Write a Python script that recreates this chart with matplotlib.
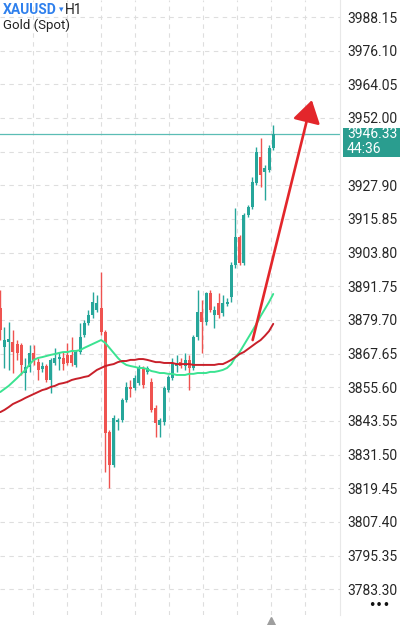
import numpy as np
import matplotlib
matplotlib.use("Agg")
import matplotlib.pyplot as plt
from matplotlib.patches import Rectangle, FancyArrowPatch
from matplotlib.transforms import blended_transform_factory

plt.rcParams['font.family'] = ['Roboto', 'DejaVu Sans']

# ---------------- data ----------------
symbol = "XAUUSD"
timeframe = "H1"
instrument = "Gold (Spot)"
countdown = "44:36"

opens = [3884.0, 3870.0, 3871.8, 3871.8, 3871.1, 3870.7, 3860.7, 3862.9, 3867.9, 3864.6,
         3862.1, 3863.2, 3858.2, 3864.3, 3865.7, 3866.1, 3867.2, 3867.2, 3863.6, 3868.2,
         3874.3, 3878.6, 3881.5, 3883.3, 3884.0, 3875.4, 3839.6, 3827.8, 3843.2, 3843.9,
         3851.0, 3855.7, 3855.3, 3857.1, 3862.5, 3861.1, 3857.5, 3848.2, 3842.1, 3843.2,
         3854.6, 3858.9, 3863.2, 3864.6, 3863.2, 3865.4, 3862.5, 3873.6, 3882.5, 3879.0,
         3889.4, 3881.5, 3885.8, 3882.2, 3885.4, 3887.9, 3899.4, 3909.4, 3900.1, 3917.3,
         3920.1, 3928.7, 3938.0, 3932.7, 3933.4, 3941.3]
highs = [3890.4, 3877.2, 3879.0, 3876.1, 3872.5, 3871.5, 3866.1, 3870.7, 3870.7, 3866.1,
         3864.6, 3863.9, 3866.1, 3869.7, 3868.2, 3868.2, 3871.5, 3873.6, 3868.9, 3878.6,
         3879.7, 3883.3, 3889.7, 3888.6, 3896.9, 3876.1, 3840.3, 3845.7, 3844.6, 3851.8,
         3857.5, 3858.2, 3860.0, 3863.6, 3863.2, 3863.2, 3858.9, 3849.3, 3844.6, 3856.0,
         3860.0, 3866.1, 3867.2, 3866.1, 3867.9, 3867.2, 3874.3, 3890.4, 3886.8, 3889.7,
         3890.4, 3884.7, 3889.4, 3888.6, 3887.6, 3900.4, 3919.8, 3910.1, 3918.0, 3920.9,
         3930.9, 3941.6, 3944.8, 3935.2, 3942.3, 3949.5]
lows = [3872.5, 3862.5, 3861.8, 3860.7, 3865.4, 3860.0, 3854.6, 3861.1, 3863.6, 3858.2,
        3861.1, 3857.5, 3853.6, 3863.6, 3861.8, 3861.8, 3863.6, 3863.2, 3862.9, 3867.5,
        3873.6, 3877.9, 3880.4, 3882.5, 3874.3, 3825.3, 3819.5, 3827.1, 3840.3, 3843.2,
        3850.3, 3852.1, 3854.6, 3856.4, 3855.3, 3860.4, 3846.7, 3837.8, 3837.8, 3842.1,
        3853.9, 3858.2, 3861.1, 3862.5, 3861.8, 3854.6, 3861.8, 3872.5, 3867.9, 3877.9,
        3882.5, 3876.8, 3880.4, 3881.1, 3884.7, 3886.1, 3898.3, 3899.4, 3899.4, 3916.6,
        3919.4, 3928.0, 3927.3, 3922.6, 3932.7, 3940.5]
closes = [3876.1, 3872.5, 3872.9, 3868.2, 3867.9, 3863.6, 3862.9, 3867.9, 3865.4, 3861.8,
          3863.2, 3858.2, 3865.4, 3866.1, 3866.4, 3863.9, 3864.3, 3864.3, 3868.2, 3873.6,
          3878.6, 3881.5, 3886.1, 3885.8, 3875.4, 3839.2, 3827.8, 3844.6, 3843.9, 3851.0,
          3855.7, 3855.0, 3858.9, 3862.5, 3856.4, 3862.5, 3847.5, 3842.8, 3843.9, 3855.3,
          3859.3, 3864.3, 3864.3, 3863.2, 3865.4, 3862.5, 3873.6, 3882.5, 3879.0, 3889.4,
          3883.3, 3883.3, 3881.5, 3885.8, 3886.1, 3899.4, 3909.4, 3900.1, 3917.3, 3920.1,
          3929.1, 3939.8, 3931.6, 3934.1, 3941.3, 3946.33]

ma_fast = [3853.9, 3855.0, 3856.1, 3857.5, 3858.9, 3860.4, 3861.8, 3863.9, 3865.4, 3866.1,
           3866.4, 3866.8, 3867.2, 3867.5, 3867.9, 3868.2, 3868.2, 3868.6, 3868.6, 3868.9,
           3869.7, 3870.4, 3871.1, 3871.8, 3872.5, 3871.5, 3869.7, 3867.9, 3866.1, 3864.6,
           3863.6, 3863.2, 3862.9, 3862.5, 3862.5, 3862.1, 3861.4, 3861.1, 3860.7, 3860.7,
           3860.4, 3860.4, 3860.0, 3860.0, 3860.0, 3860.4, 3860.4, 3860.7, 3860.7, 3860.7,
           3861.1, 3861.1, 3861.4, 3861.8, 3862.5, 3863.9, 3866.4, 3868.2, 3870.7, 3873.2,
           3875.7, 3878.3, 3881.1, 3883.6, 3886.1, 3889.0]
ma_slow = [3846.7, 3847.5, 3848.5, 3849.6, 3850.3, 3851.0, 3851.8, 3852.5, 3853.2, 3853.9,
           3854.6, 3855.0, 3855.7, 3856.1, 3856.8, 3857.1, 3857.5, 3858.2, 3858.6, 3858.9,
           3859.3, 3859.6, 3860.7, 3861.8, 3862.5, 3863.2, 3863.6, 3863.9, 3864.6, 3865.0,
           3865.0, 3865.4, 3865.4, 3865.7, 3865.7, 3865.4, 3865.0, 3864.6, 3864.6, 3864.3,
           3864.3, 3864.3, 3863.9, 3863.9, 3863.9, 3863.9, 3863.6, 3863.6, 3863.6, 3863.6,
           3863.6, 3863.6, 3863.9, 3863.9, 3864.6, 3865.4, 3866.4, 3867.5, 3868.2, 3869.3,
           3870.4, 3871.5, 3872.5, 3874.0, 3875.7, 3878.3]

price_ticks = [3988.15, 3976.10, 3964.05, 3952.00, 3939.95, 3927.90, 3915.85, 3903.80,
               3891.75, 3879.70, 3867.65, 3855.60, 3843.55, 3831.50, 3819.45, 3807.40,
               3795.35, 3783.30]

arrow_start = (60.1, 3872.5)
arrow_end = (74.2, 3958.4)

# ---------------- style ----------------
UP = "#26a69a"
DOWN = "#ef5350"
GRID = "#dedede"

W, H = 412, 625
fig = plt.figure(figsize=(W / 100, H / 100), dpi=100)
ax = fig.add_axes([0, 10 / H, 340 / W, 615 / H])

o = np.array(opens); h = np.array(highs); l = np.array(lows); c = np.array(closes)
idx = np.arange(len(o))
up = c >= o
cols = np.where(up, UP, DOWN)

ax.vlines(idx, l, h, colors=cols, linewidth=1.0, zorder=3)
body_lo = np.minimum(o, c)
body_h = np.maximum(np.abs(c - o), 0.35)
ax.bar(idx, body_h, bottom=body_lo, width=0.72, color=cols, linewidth=0, zorder=4)

ax.plot(idx, ma_fast, color="#3be391", linewidth=1.4, zorder=5, solid_capstyle='round')
ax.plot(idx, ma_slow, color="#c8202a", linewidth=1.4, zorder=5, solid_capstyle='round')

ax.set_xlim(-0.07, 80.9)
ax.set_ylim(3774.07, 3994.24)

# grid
for p in price_ticks:
    ax.axhline(p, color=GRID, linewidth=0.8, linestyle=(0, (4, 4)), zorder=1)
for gx in np.arange(7.8, 80, 8.1):
    ax.axvline(gx, color=GRID, linewidth=0.8, linestyle=(0, (4, 4)), zorder=1)

# current price
last = closes[-1]

# axis (the tick hidden under the current-price box gets no label)
ax.yaxis.tick_right()
ax.set_yticks(price_ticks)
ax.set_yticklabels(["" if (last - 9 < p < last + 2.5) else f"{p:.2f}" for p in price_ticks],
                   fontsize=10, color="#262626")
ax.tick_params(axis='y', length=0, pad=5)
ax.set_xticks([])
for s in ["top", "left", "bottom"]:
    ax.spines[s].set_visible(False)
ax.spines["right"].set_color("#e8e8e8")
ax.spines["right"].set_linewidth(0.8)

ax.axhline(last, color="#5bbdb5", linewidth=0.9, zorder=2)

# arrow
arr = FancyArrowPatch(arrow_start, arrow_end, arrowstyle="-|>,head_length=8,head_width=5",
                      color="#e3262b", linewidth=1.9, mutation_scale=1.7, zorder=6,
                      shrinkA=0, shrinkB=0)
ax.add_patch(arr)

# price box
fig.canvas.draw()
ypix = ax.transData.transform((0, last))[1]
box = Rectangle((343, ypix - 23), 57, 29, transform=None, facecolor="#2a9d8f",
                edgecolor="none", zorder=10)
fig.patches.append(box)
fig.text(347 / W, ypix / H, f"{last:.2f}", color="white", fontsize=10,
         va="center", ha="left", zorder=11)
fig.text(347 / W, (ypix - 15) / H, countdown, color="white", fontsize=10,
         va="center", ha="left", zorder=11)

# header texts
fig.text(3 / W, 1 - 10 / H, symbol, color="#2f80ed", fontsize=10, fontweight="bold",
         va="center", ha="left")
fig.text(58.5 / W, 1 - 10 / H, "\u25BE", color="#2f80ed", fontsize=6.5,
         va="center", ha="left", family=["DejaVu Sans"])
fig.text(65 / W, 1 - 10 / H, timeframe, color="#222222", fontsize=10,
         va="center", ha="left")
fig.text(3 / W, 1 - 25 / H, instrument, color="#222222", fontsize=9.5,
         va="center", ha="left")

# bottom markers
trans = blended_transform_factory(ax.transData, fig.transFigure)
ax.plot([64.5], [1 - 621 / H], marker="^", markersize=6, color="#9e9e9e",
        transform=trans, clip_on=False, zorder=10)
fig.text(379 / W, 1 - 606 / H, "\u2022\u2022\u2022", color="#111111", fontsize=9,
         va="center", ha="center", family=["DejaVu Sans"])

fig.savefig("out.png", dpi=100, facecolor="white")
